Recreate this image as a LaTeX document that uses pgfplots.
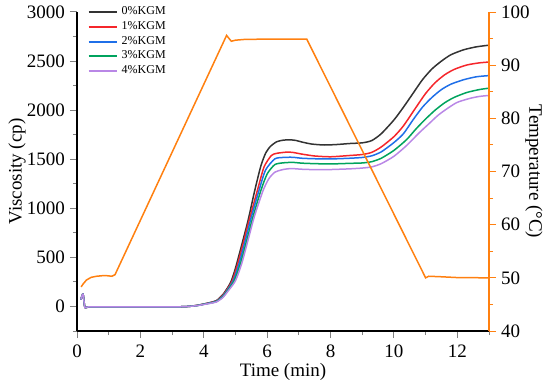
\documentclass[border=0pt]{standalone}
\usepackage{fontspec}
\setmainfont{Liberation Serif}
\usepackage{pgfplots}
\pgfplotsset{compat=1.18}
\definecolor{cblack}{HTML}{333333}
\definecolor{cred}{HTML}{F5262B}
\definecolor{cblue}{HTML}{1F6FE8}
\definecolor{cgreen}{HTML}{00A35E}
\definecolor{cpurple}{HTML}{B987E6}
\definecolor{corange}{HTML}{FF8010}
\begin{document}
\begin{tikzpicture}
\useasboundingbox (-38.5pt,-27.5pt) rectangle (236.5pt,165.5pt);
\pgfplotsset{
  common/.style={
    scale only axis, width=206pt, height=159.5pt, at={(0,0)}, anchor=south west,
    xmin=0, xmax=13,
    tick align=outside,
    major tick length=3.5pt, minor tick length=2pt,
    every tick label/.append style={font=\fontsize{9.5}{11}\selectfont},
    label style={font=\fontsize{9.5}{11}\selectfont},
    /pgf/number format/assume math mode=true,
    /pgf/number format/set thousands separator={},
    axis line style={line width=0.6pt},
    every tick/.append style={line width=0.5pt},
    clip=false,
  }
}
\begin{axis}[common,
  axis y line*=left, axis x line*=bottom,
  ymin=-250, ymax=3000,
  ytick={0,500,...,3000}, minor ytick={-250,250,750,...,2750},
  xtick={0,2,...,12}, minor xtick={1,3,...,13},
  xlabel={Time (min)}, ylabel={Viscosity (cp)},
  xlabel style={at={(axis description cs:0.5,-0.1276)}, anchor=center},
  ylabel style={at={(axis description cs:-0.1456,0.5)}, anchor=center},
  yticklabel style={xshift=1pt},
  legend cell align=left,
  legend style={font=\fontsize{6}{7}\selectfont, draw=none, fill=none,
    at={(0.025,1.031)}, anchor=north west, row sep=-2.1pt, inner sep=0pt},
  legend image code/.code={\draw[#1, sharp plot, line width=1pt] (0pt,0pt) -- (14pt,0pt);},
  every axis plot/.append style={line width=0.75pt, smooth, tension=0.4},
]
\addplot[cblack] coordinates {(0.12,70)(0.18,125)(0.2,110)(0.25,-10)(0.35,-5)(1,-5)(2,-5)(3,-5)(3.5,0)(3.8,12)(4.0,25)(4.2,40)(4.4,60)(4.6,120)(4.75,190)(4.87,262)(5.0,390)(5.2,630)(5.4,880)(5.6,1170)(5.8,1430)(5.95,1560)(6.1,1630)(6.3,1678)(6.5,1694)(6.7,1698)(6.9,1692)(7.1,1675)(7.4,1655)(7.8,1645)(8.2,1650)(8.6,1660)(9.0,1667)(9.3,1690)(9.6,1760)(10.0,1900)(10.3,2030)(10.6,2170)(10.9,2310)(11.2,2420)(11.5,2500)(11.8,2565)(12.2,2615)(12.6,2645)(13.0,2662)};
\addlegendentry{0\%KGM}
\addplot[cred] coordinates {(0.12,70)(0.18,125)(0.2,110)(0.25,-10)(0.35,-5)(1,-5)(2,-5)(3,-5)(3.5,0)(3.8,11)(4.0,24)(4.2,38)(4.4,56)(4.6,112)(4.75,180)(4.9,262)(5.05,410)(5.25,650)(5.45,900)(5.69,1180)(5.9,1420)(6.13,1537)(6.3,1560)(6.6,1572)(6.8,1570)(7.1,1552)(7.5,1533)(8.0,1525)(8.6,1538)(9.0,1548)(9.3,1570)(9.6,1625)(10.0,1730)(10.3,1840)(10.7,2030)(11.0,2170)(11.3,2280)(11.6,2360)(11.9,2415)(12.3,2460)(12.7,2482)(13.0,2490)};
\addlegendentry{1\%KGM}
\addplot[cblue] coordinates {(0.12,70)(0.18,125)(0.2,110)(0.25,-10)(0.35,-5)(1,-5)(2,-5)(3,-5)(3.5,0)(3.8,10)(4.0,23)(4.2,36)(4.4,53)(4.6,105)(4.75,170)(4.93,262)(5.1,420)(5.3,660)(5.5,910)(5.74,1180)(5.95,1390)(6.24,1503)(6.5,1518)(6.8,1520)(7.1,1510)(7.5,1505)(8.0,1503)(8.6,1510)(9.0,1518)(9.3,1535)(9.6,1575)(10.0,1670)(10.3,1760)(10.6,1900)(10.9,2030)(11.2,2130)(11.5,2210)(11.8,2265)(12.2,2310)(12.6,2340)(13.0,2352)};
\addlegendentry{2\%KGM}
\addplot[cgreen] coordinates {(0.12,70)(0.18,125)(0.2,110)(0.25,-10)(0.35,-5)(1,-5)(2,-5)(3,-5)(3.5,0)(3.8,10)(4.0,22)(4.2,34)(4.4,50)(4.6,98)(4.75,160)(4.96,262)(5.15,430)(5.35,665)(5.55,910)(5.8,1180)(6.0,1350)(6.24,1445)(6.5,1463)(6.8,1468)(7.1,1460)(7.5,1455)(8.0,1452)(8.6,1458)(9.0,1462)(9.3,1475)(9.6,1510)(10.0,1590)(10.4,1700)(10.7,1810)(11.0,1910)(11.3,2000)(11.6,2075)(11.9,2130)(12.3,2180)(12.7,2210)(13.0,2224)};
\addlegendentry{3\%KGM}
\addplot[cpurple] coordinates {(0.12,70)(0.18,125)(0.2,110)(0.25,-10)(0.35,-5)(1,-5)(2,-5)(3,-5)(3.5,0)(3.8,9)(4.0,20)(4.2,32)(4.4,46)(4.6,90)(4.75,150)(5.0,262)(5.2,440)(5.4,680)(5.6,920)(5.87,1180)(6.05,1300)(6.24,1367)(6.5,1395)(6.76,1405)(7.1,1398)(7.5,1394)(8.0,1395)(8.6,1402)(9.0,1410)(9.3,1422)(9.6,1455)(10.0,1530)(10.4,1640)(10.8,1770)(11.1,1860)(11.4,1950)(11.7,2020)(12.0,2080)(12.4,2120)(12.7,2140)(13.0,2150)};
\addlegendentry{4\%KGM}
\end{axis}
\begin{axis}[common,
  axis y line*=right, axis x line=none,
  ymin=40, ymax=100,
  ytick={40,50,...,100}, minor ytick={45,55,...,95},
  ylabel={Temperature (°C)},
  ylabel style={at={(axis description cs:1.109,0.5)}, anchor=center, rotate=180},
  y axis line style={corange},
  every y tick/.append style={corange},
  every minor y tick/.append style={corange},
  yticklabel style={black, xshift=-1pt},
]
\addplot[corange, line width=0.75pt] coordinates {(0.13,48.3)(0.2,48.9)(0.3,49.6)(0.45,50.1)(0.62,50.3)(0.8,50.4)(0.95,50.4)(1.1,50.3)(1.2,50.6)(4.72,95.6)(4.8,95.0)(4.87,94.5)(5.0,94.7)(5.3,94.85)(6,94.9)(7.0,94.9)(7.25,94.9)(11.0,50.0)(11.1,50.3)(11.5,50.2)(12,50.05)(13,50.0)};
\end{axis}
\end{tikzpicture}
\end{document}
